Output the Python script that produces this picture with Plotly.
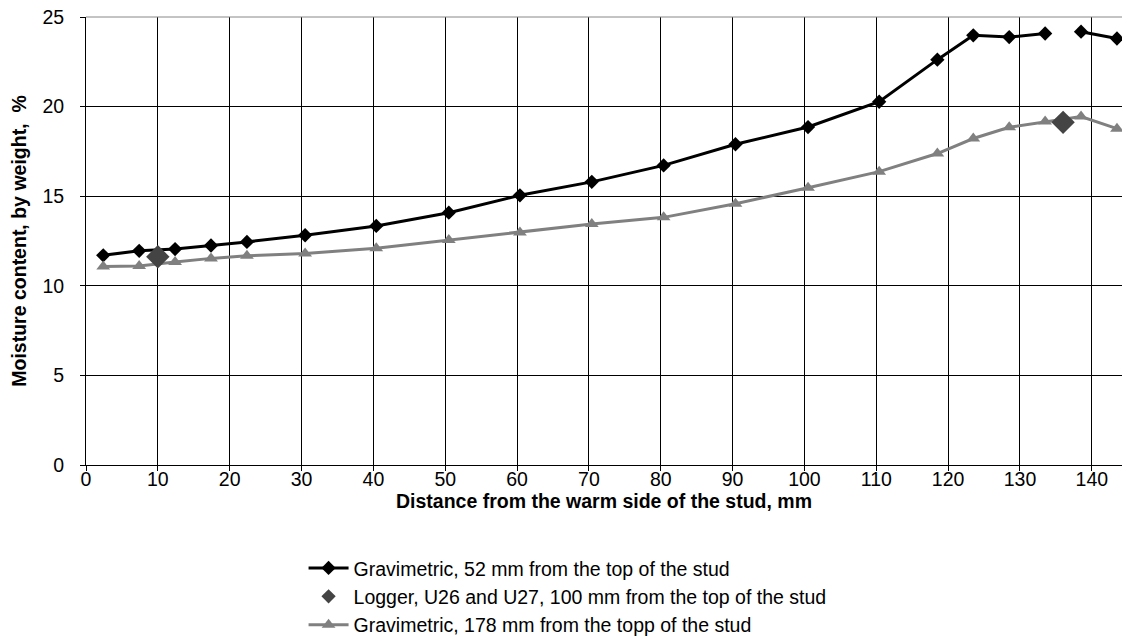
import plotly.graph_objects as go

# Data
x_grav = [2.4, 7.4, 12.4, 17.4, 22.4, 30.5, 40.4, 50.5, 60.4, 70.4, 80.4, 90.4,
          100.5, 110.4, 118.5, 123.5, 128.5, 133.5, 138.5, 143.5]
y_52 = [11.7, 11.95, 12.05, 12.25, 12.45, 12.82, 13.34, 14.08, 15.05, 15.8, 16.72, 17.9,
        18.86, 20.27, 22.62, 23.98, 23.88, 24.08, 24.18, 23.8]
y_178 = [11.08, 11.1, 11.33, 11.53, 11.67, 11.8, 12.1, 12.55, 12.98, 13.45, 13.82, 14.58,
         15.47, 16.37, 17.38, 18.22, 18.85, 19.17, 19.45, 18.77]
x_logger = [10.0, 136.0]
y_logger = [11.62, 19.12]
gap_after_index = 17  # line of the 52 mm series is broken after this point

x_52_plot = x_grav[:gap_after_index + 1] + [None] + x_grav[gap_after_index + 1:]
y_52_plot = y_52[:gap_after_index + 1] + [None] + y_52[gap_after_index + 1:]

xticks = list(range(0, 150, 10))
yticks = [0, 5, 10, 15, 20, 25]

fig = go.Figure()
fig.add_trace(go.Scatter(
    x=x_52_plot, y=y_52_plot, mode="lines+markers",
    name="Gravimetric, 52 mm from the top of the stud",
    line=dict(color="black", width=3),
    marker=dict(symbol="diamond", size=11, color="black"),
    connectgaps=False, legendrank=1,
))
fig.add_trace(go.Scatter(
    x=x_grav, y=y_178, mode="lines+markers",
    name="Gravimetric, 178 mm from the topp of the stud",
    line=dict(color="#808080", width=3),
    marker=dict(symbol="triangle-up", size=12, color="#808080"),
    legendrank=3,
))
# logger points drawn on top; legend entry via legend-only proxy with small marker
fig.add_trace(go.Scatter(
    x=x_logger, y=y_logger, mode="markers",
    name="Logger, U26 and U27, 100 mm from the top of the stud",
    marker=dict(symbol="diamond", size=18, color="#444444"),
    showlegend=False,
))
fig.add_trace(go.Scatter(
    x=[None], y=[None], mode="markers",
    name="Logger, U26 and U27, 100 mm from the top of the stud",
    marker=dict(symbol="diamond", size=11, color="#444444"),
    legendrank=2,
))

font_family = "Liberation Sans, Arial, sans-serif"
fig.update_layout(
    width=1133, height=642,
    margin=dict(l=86, r=11, t=17, b=177, autoexpand=False),
    paper_bgcolor="white", plot_bgcolor="white",
    font=dict(family=font_family, size=19.5, color="black"),
    showlegend=True,
    legend=dict(
        orientation="v",
        x=0.210, y=-0.187, xanchor="left", yanchor="top",
        font=dict(size=19.5, family=font_family),
        itemwidth=40, tracegroupgap=0, bgcolor="rgba(0,0,0,0)",
    ),
    xaxis=dict(
        range=[0, 144.2], tickvals=xticks, ticktext=[str(v) for v in xticks],
        showgrid=True, gridcolor="black", gridwidth=1,
        showline=True, linecolor="black", linewidth=1, mirror=False,
        ticks="outside", ticklen=5, tickcolor="black", tickangle=0,
        zeroline=False, automargin=False, ticklabelstandoff=-8,
        title=dict(text="<b>Distance from the warm side of the stud, mm</b>",
                   font=dict(size=19.5), standoff=0),
        tickfont=dict(size=19.5),
    ),
    yaxis=dict(
        range=[0, 25], tickvals=yticks, ticktext=[str(v) for v in yticks],
        showgrid=True, gridcolor="black", gridwidth=1,
        showline=True, linecolor="black", linewidth=1,
        ticks="outside", ticklen=5, tickcolor="black",
        zeroline=False, automargin=False, ticklabelstandoff=12,
        title=dict(text="<b>Moisture content, by weight,  %</b>",
                   font=dict(size=19.5), standoff=10),
        tickfont=dict(size=19.5),
    ),
)
# top border of plot area
fig.add_shape(type="line", xref="paper", yref="paper", x0=0, x1=1, y0=1, y1=1,
              line=dict(color="#888888", width=1))

fig.write_html("out.html")
